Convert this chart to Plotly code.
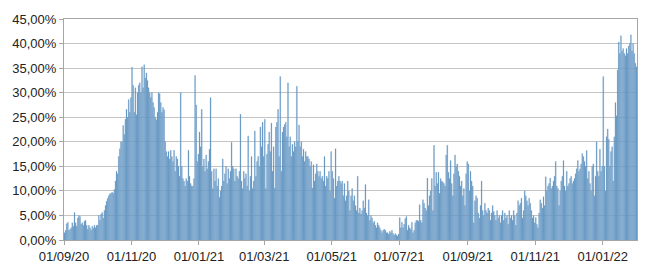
import pandas as pd
import plotly.graph_objects as go

# Daily values (%) per month
sep20 = [1.5,2.0,3.3,3.6,2.0,2.2,2.5,3.5,2.8,5.6, 3.5,2.8,4.5,5.0,4.8,3.2,3.5,3.0,3.8,4.0, 3.0,2.2,3.0,2.5,2.0,2.8,2.4,3.0,2.5,3.0]
oct20 = [3.0,5.0,4.0,5.3,5.6,4.5,6.0,7.0,7.9,8.5, 9.0,9.4,9.5,9.7,9.5,10.3,12.0,14.0,13.5,17.0, 18.6,20.0,19.9,23.3,21.5,24.6,26.6,25.0,28.6,26.0, 29.0]
nov20 = [35.2,31.5,26,31,25.5,30,31.5,32,30,35.3, 31,35.7,33,34,32.5,31,30,29,30,28, 27,25,24.5,26,30,29.8,28,26,27,26.5]
dec20 = [20,18,17,18,16.5,18.3,17,16,18.3,14, 17,16.5,15,13,30,15,12.5,12,11,12.5, 12,18.3,13,11.5,11,11,12.5,33.5,27.5,16, 17.5]
jan21 = [22,19,26.6,15,16.5,14,17.3,14.5,16,18.5, 29,14,10.5,14.5,12,14.5,11,12.5,8.7,10, 11,16.5,12,13.5,15,11.5,14.5,12.5,14,19.9, 15]
feb21 = [14.5,12,14.5,13,12.5,14,25.6,12,10.5,14, 12.5,13.5,11,21.2,10,13,17,10.5,12,22.2, 13,16,17,15,23,19,24,17]
mar21 = [24.6,10.5,17.5,19.5,22,18,23.8,14,19,10.6, 23,24,26.6,17,33.3,14,22,23,23.5,24, 21,32,19,21,17,19.5,18,20,19,31.3, 20]
apr21 = [23.4,19,20,17,18.5,16,18,17,17,16.5, 15,16,10.6,15.3,12,13.5,15.5,14,13,14, 12.5,13,12,17,11,13,12.5,14,10,18]
may21 = [14,12.5,8.5,18.6,11,12,13,12,11.5,12, 9,11.5,8,9,12,10,6,9,10.5,8, 9,7,6,13,5.5,6.5,5.3,6,8,6.5, 11.3]
jun21 = [5.5,5,8.2,4,5,4.5,3.5,3.8,3,2.5, 3.5,3,2.5,2,1.5,2,2.2,2,1.5,1.5, 1.2,1.8,1.5,2,1.3,1,1.3,1,0.8,1.2]
jul21 = [4.6,2.5,3.6,2.5,3.2,4.4,4.8,2,3,2.5, 2.2,3.6,1.5,2,3.5,4,4,3.8,7.2,4, 3.5,8.2,7.5,6.5,6,12.6,7,9,10,12.5, 6]
aug21 = [19.3,11,13.8,11.5,13.8,9.5,12.5,12,11.8,11.5, 11,17.3,19.3,13.8,12.5,16.2,11.5,9,13.5,17.3, 15,15.5,14,13,11,12,9,10.5,7,13.5, 16]
sep21 = [15.5,10,14,12,11,3.5,8,9,8.5,5.5, 4.5,7,12,6,5,7.5,6,5.5,6.5,6, 4,5.5,7,5.8,5,4,6,4.5,5,3.5]
oct21 = [5,6,4,5.5,4.5,5,3.2,6,4.5,5, 4,6,5,3,5.5,8,7,7.5,8.5,4.5, 6,10,9,8,7,8.5,7.5,6,4.5,5, 3.5]
nov21 = [4.6,3.2,2.5,5.5,8.2,7.5,6.5,8.8,7,12.9, 10,11,11.5,12.6,10.5,11,12,13,16,11, 10.5,7,10,12,13,16.2,11,10,14,11]
dec21 = [11.5,12.5,13,11.5,12,12.5,13.5,14.5,16.2,14, 14.5,15.5,17.6,17,16,15,18.2,12.5,14,11.5, 10,15,15.5,9,13,20,14,13,18.5,14, 15]
jan22 = [33.3,15,10,21,22.6,20.5,15,18,19,12, 21,28,25.3,34.6,40.3,38,41.6,38.5,39,38, 37.5,39,38,39.5,40,41.8,38.5,40,38,36, 35.3]

month_starts = ["2020-09-01","2020-10-01","2020-11-01","2020-12-01","2021-01-01","2021-02-01",
                "2021-03-01","2021-04-01","2021-05-01","2021-06-01","2021-07-01","2021-08-01",
                "2021-09-01","2021-10-01","2021-11-01","2021-12-01","2022-01-01"]
month_values = [sep20, oct20, nov20, dec20, jan21, feb21, mar21, apr21, may21, jun21,
                jul21, aug21, sep21, oct21, nov21, dec21, jan22]

tick_vals = ["2020-09-01","2020-11-01","2021-01-01","2021-03-01","2021-05-01",
             "2021-07-01","2021-09-01","2021-11-01","2022-01-01"]
tick_text = ["01/09/20","01/11/20","01/01/21","01/03/21","01/05/21",
             "01/07/21","01/09/21","01/11/21","01/01/22"]

dates, values = [], []
for start, vals in zip(month_starts, month_values):
    dates += list(pd.date_range(start, periods=len(vals), freq="D"))
    values += [v / 100 for v in vals]

fig = go.Figure(go.Bar(
    x=dates, y=values,
    xperiod=86400000, xperiodalignment="middle",
    marker=dict(color="#4f86b8", line=dict(color="#8db3d6", width=0.3)),
))

fig.update_layout(
    width=650, height=276,
    margin=dict(l=64, r=13, t=18, b=33),
    paper_bgcolor="white", plot_bgcolor="white",
    bargap=0.15, showlegend=False,
    separators=",.",
    font=dict(family="Liberation Sans, Arial, sans-serif", size=13, color="#222222"),
)
fig.update_xaxes(
    type="date", range=["2020-09-01", "2022-02-01"],
    tickvals=tick_vals, ticktext=tick_text,
    showgrid=False, showline=True, linecolor="#a6a6a6", linewidth=1, mirror=True,
    ticks="outside", ticklen=4, tickcolor="#a6a6a6",
)
fig.update_yaxes(
    range=[0, 0.45], dtick=0.05, tickformat=".2%",
    showgrid=True, gridcolor="#c4c4c4", gridwidth=1,
    showline=True, linecolor="#a6a6a6", linewidth=1, mirror=True,
    ticks="outside", ticklen=4, tickcolor="#a6a6a6",
    zeroline=False,
)

fig.write_html("out.html")
